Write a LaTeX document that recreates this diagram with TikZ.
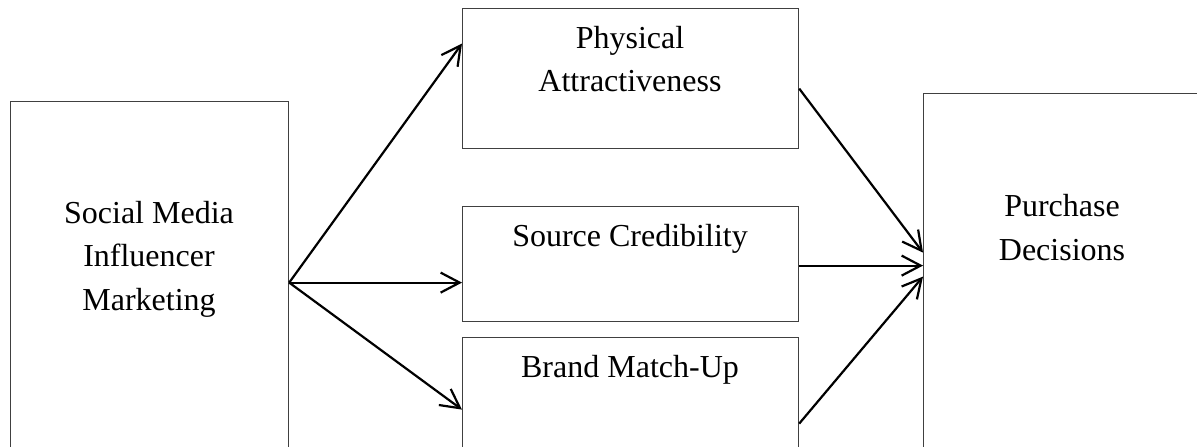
\documentclass[tikz,border=0pt]{standalone}
\usepackage{fontspec}
\setmainfont{Liberation Serif}
\usetikzlibrary{arrows.meta}

\begin{document}
\begin{tikzpicture}[x=0.5pt,y=-0.5pt,thick,
                    box/.style={rectangle,draw=black!75,line width=0.6pt,inner sep=0pt,anchor=north west},
                    lbl/.style={align=center,inner sep=0pt,font=\fontsize{16}{21.75}\selectfont},
                    arr/.style={-{Straight Barb[length=9.5pt,width=10pt]},line width=1.1pt,black}]

  \useasboundingbox (0,0) rectangle (1197,446);
  \clip (0,0) rectangle (1197,446);

  % boxes (the lower ones run past the page edge)
  \node[box,minimum width=139pt,minimum height=181pt] (smi) at (10,101) {};
  \node[box,minimum width=168pt,minimum height=70pt] (phys) at (462,8) {};
  \node[box,minimum width=168pt,minimum height=57.5pt] (src) at (462,206) {};
  \node[box,minimum width=168pt,minimum height=72pt] (brand) at (462,337) {};
  \node[box,minimum width=165pt,minimum height=203.5pt] (pd) at (923,93) {};

  % texts
  \node[lbl] (smitxt) at (149,259) {Social Media\\Influencer\\Marketing};
  \node[lbl] (phystxt) at (630,59) {Physical\\Attractiveness};
  \node[lbl] (srctxt) at (630,238.5) {Source Credibility};
  \node[lbl] (brandtxt) at (630,369.5) {Brand Match-Up};
  \node[lbl] (pdtxt) at (1062,227.5) {Purchase\\Decisions};

  % arrows
  \draw[arr] (smi.east) -- ([yshift=17.5pt]phys.west);
  \draw[arr] (smi.east) -- ([yshift=-9.25pt]src.west);
  \draw[arr] (smi.east) -- (brand.west);
  \draw[arr] ([yshift=-5pt]phys.east) -- ([yshift=22.25pt]pd.west);
  \draw[arr] ([yshift=-0.75pt]src.east) -- ([yshift=15.75pt]pd.west);
  \draw[arr] ([yshift=-7pt]brand.east) -- ([yshift=10.25pt]pd.west);
\end{tikzpicture}
\end{document}
